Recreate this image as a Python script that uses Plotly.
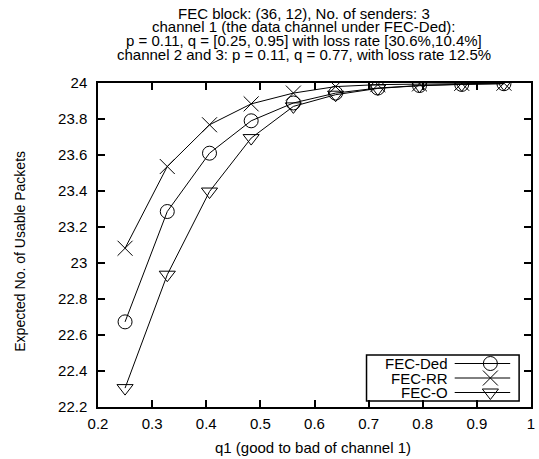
import plotly.graph_objects as go

# q1 sweep for channel 1
q1 = [0.25, 0.328, 0.406, 0.483, 0.561, 0.639, 0.717, 0.794, 0.872, 0.95]

# expected number of usable packets per scheme
fec_ded = [22.673, 23.286, 23.610, 23.790, 23.889, 23.944, 23.972, 23.986, 23.992, 23.996]
fec_rr = [23.082, 23.536, 23.768, 23.884, 23.944, 23.980, 23.991, 23.995, 23.998, 23.999]
fec_o = [22.305, 22.935, 23.397, 23.694, 23.870, 23.935, 23.970, 23.985, 23.993, 23.997]

series_names = ["FEC-Ded", "FEC-RR", "FEC-O"]
series_values = [fec_ded, fec_rr, fec_o]
symbols = ["circle-open", "x-thin-open", "triangle-down-open"]
sizes = [14, 15, 14]

title_lines = [
    "FEC block: (36, 12), No. of senders: 3",
    "channel 1 (the data channel under FEC-Ded):",
    "p = 0.11, q = [0.25, 0.95] with loss rate [30.6%,10.4%]",
    "channel 2 and 3: p = 0.11, q = 0.77, with loss rate 12.5%",
]
x_title = "q1 (good to bad of channel 1)"
y_title = "Expected No. of Usable Packets"

FONT = "Liberation Sans, Arial, Helvetica, sans-serif"
FS = 15
W, H = 539, 459
L, R, T, B = 98, 4, 83, 52
PW, PH = W - L - R, H - T - B


def px_x(x):
    return (x - L) / PW


def px_y(y):
    return (H - B - y) / PH


fig = go.Figure()

for name, vals, sym, sz in zip(series_names, series_values, symbols, sizes):
    fig.add_trace(go.Scatter(
        x=q1, y=vals, name=name, mode="lines+markers",
        line=dict(color="black", width=1),
        marker=dict(symbol=sym, size=sz, color="black",
                    line=dict(color="black", width=1)),
        showlegend=False,
    ))

# legend drawn in pixel space on an overlay axis pair
box = dict(x0=369, x1=523, y0=355, y1=401)
row_y = [363.5, 378, 392.5]
for name, sym, sz, yy in zip(series_names, symbols, sizes, row_y):
    fig.add_trace(go.Scatter(
        x=[458, 514], y=[yy, yy], mode="lines", xaxis="x2", yaxis="y2",
        line=dict(color="black", width=1), showlegend=False, hoverinfo="skip",
    ))
    fig.add_trace(go.Scatter(
        x=[494], y=[yy], mode="markers", xaxis="x2", yaxis="y2",
        marker=dict(symbol=sym, size=sz, color="black",
                    line=dict(color="black", width=1)),
        showlegend=False, hoverinfo="skip",
    ))
    fig.add_annotation(x=453, y=yy, xref="x2", yref="y2", text=name,
                       showarrow=False, xanchor="right", yanchor="middle",
                       font=dict(family=FONT, size=FS, color="black"))
fig.add_shape(type="rect", xref="x2", yref="y2", line=dict(color="black", width=1.5),
              **box)

# title lines, placed individually for tight spacing
title_y = [13.5, 27, 40.5, 54]
for txt, yy in zip(title_lines, title_y):
    fig.add_annotation(x=px_x(306), y=px_y(yy), xref="paper", yref="paper",
                       text=txt, showarrow=False, xanchor="center", yanchor="middle",
                       font=dict(family=FONT, size=FS, color="black"))

# axis titles
fig.add_annotation(x=px_x(315), y=px_y(447), xref="paper", yref="paper",
                   text=x_title, showarrow=False, xanchor="center", yanchor="middle",
                   font=dict(family=FONT, size=FS, color="black"))
fig.add_annotation(x=px_x(19), y=px_y(251), xref="paper", yref="paper",
                   text=y_title, textangle=-90, showarrow=False,
                   xanchor="center", yanchor="middle",
                   font=dict(family=FONT, size=14, color="black"))

axis_common = dict(
    showline=True, linecolor="black", linewidth=1.5, mirror="allticks",
    ticks="inside", ticklen=7, tickwidth=1.5, tickcolor="black",
    showgrid=False, zeroline=False,
    tickfont=dict(family=FONT, size=FS, color="black"),
)

fig.update_layout(
    width=W, height=H,
    margin=dict(l=L, r=R, t=T, b=B, pad=0),
    paper_bgcolor="white", plot_bgcolor="white",
    font=dict(family=FONT, size=FS, color="black"),
    xaxis=dict(range=[0.2, 1.0], dtick=0.1, tick0=0.2, ticklabelstandoff=2,
               **axis_common),
    yaxis=dict(range=[22.2, 24.0], dtick=0.2, tick0=22.2, ticklabelstandoff=6,
               **axis_common),
    xaxis2=dict(range=[L, W - R], overlaying="x", visible=False, fixedrange=True),
    yaxis2=dict(range=[H - B, T], overlaying="y", visible=False, fixedrange=True),
)

fig.write_html("out.html")
